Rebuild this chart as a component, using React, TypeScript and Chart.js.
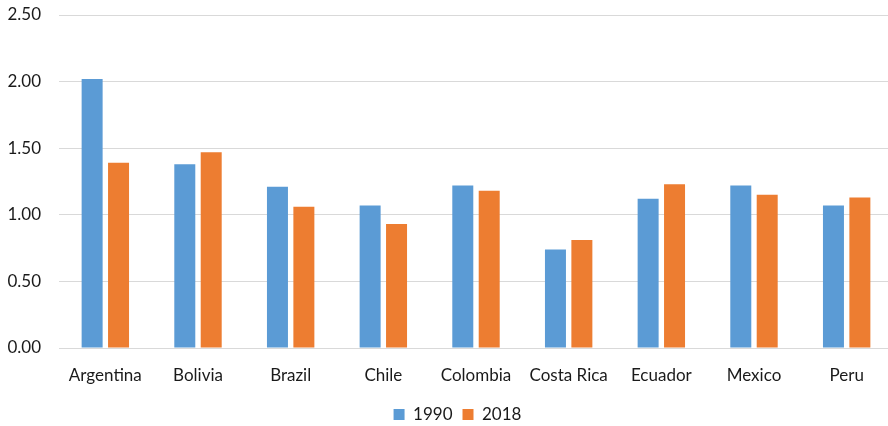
import React, { useEffect, useRef } from "react";
import { Chart, registerables } from "chart.js";

Chart.register(...registerables);

const categories = ["Argentina", "Bolivia", "Brazil", "Chile", "Colombia", "Costa Rica", "Ecuador", "Mexico", "Peru"];
const series1990 = [2.02, 1.38, 1.21, 1.07, 1.22, 0.74, 1.12, 1.22, 1.07];
const series2018 = [1.39, 1.47, 1.06, 0.93, 1.18, 0.81, 1.23, 1.15, 1.13];
const seriesLabels = ["1990", "2018"];
const yTicks = [0, 0.5, 1, 1.5, 2, 2.5];

const FONT = "Lato, 'Open Sans', sans-serif";
const TEXT = "#1a1a1a";

const shiftLegend = {
  id: "shiftLegend",
  afterLayout(chart: any) {
    const l = chart.legend;
    if (l) {
      l.left += 11;
      l.right += 11;
    }
  },
};

export default function App() {
  const ref = useRef<HTMLCanvasElement | null>(null);
  useEffect(() => {
    if (!ref.current) return;
    const chart = new Chart(ref.current, {
      type: "bar",
      data: {
        labels: categories,
        datasets: [
          {
            label: seriesLabels[0],
            data: series1990,
            backgroundColor: "#5B9BD5",
            categoryPercentage: 0.57,
            barPercentage: 0.795,
          },
          {
            label: seriesLabels[1],
            data: series2018,
            backgroundColor: "#ED7D31",
            categoryPercentage: 0.57,
            barPercentage: 0.795,
          },
        ],
      },
      options: {
        responsive: false,
        animation: false,
        layout: { padding: { top: 15, left: 0, right: 0, bottom: 0 } },
        plugins: {
          tooltip: { enabled: false },
          legend: {
            position: "bottom",
            labels: {
              boxWidth: 11,
              boxHeight: 11,
              padding: 10,
              color: TEXT,
              font: { family: FONT, size: 17 },
            },
          },
        },
        scales: {
          x: {
            grid: { display: false, drawTicks: false },
            border: { display: false },
            ticks: { color: TEXT, font: { family: FONT, size: 17 }, padding: 17, maxRotation: 0 },
            afterFit: (s: any) => {
              s.height = 48;
            },
          },
          y: {
            min: 0,
            max: 2.5,
            afterBuildTicks: (s: any) => {
              s.ticks = yTicks.map((v) => ({ value: v }));
            },
            grid: { color: "#d9d9d9", lineWidth: 1, drawTicks: false },
            border: { display: false },
            ticks: {
              color: TEXT,
              font: { family: FONT, size: 17 },
              padding: 18,
              callback: (v: any) => Number(v).toFixed(2),
            },
            afterFit: (s: any) => {
              s.width = 59;
              s.paddingTop = 0;
              s.paddingBottom = 0;
            },
          },
        },
      },
      plugins: [shiftLegend],
    });
    return () => chart.destroy();
  }, []);
  return (
    <div style={{ position: "fixed", left: 0, top: 0, width: 888, height: 426, overflow: "hidden", background: "#fff" }}>
      <canvas ref={ref} width={893} height={433} style={{ width: 893, height: 433, display: "block" }} />
    </div>
  );
}
